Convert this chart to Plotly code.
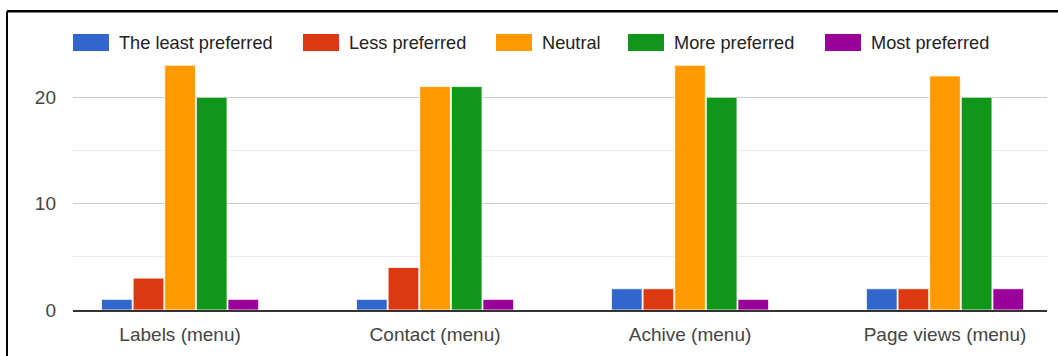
import plotly.graph_objects as go

# Survey results: preference counts per menu item
categories = ["Labels (menu)", "Contact (menu)", "Achive (menu)", "Page views (menu)"]
series_names = ["The least preferred", "Less preferred", "Neutral", "More preferred", "Most preferred"]
least_preferred = [1, 1, 2, 2]
less_preferred = [3, 4, 2, 2]
neutral = [23, 21, 23, 22]
more_preferred = [20, 21, 20, 20]
most_preferred = [1, 1, 1, 2]
y_tick_values = [0, 10, 20]

series_values = [least_preferred, less_preferred, neutral, more_preferred, most_preferred]
colors = ["#3366cc", "#dc3912", "#ff9900", "#109618", "#990099"]

W, H = 1058, 356
M_L, M_R, M_T, M_B = 73, 11, 44, 44
PW, PH = W - M_L - M_R, H - M_T - M_B


def px_x(x):
    return (x - M_L) / PW


def px_y(y):
    return (H - M_B - y) / PH


FONT = "Liberation Sans, Arial, sans-serif"

fig = go.Figure()
for name, vals, col in zip(series_names, series_values, colors):
    fig.add_trace(go.Bar(
        name=name, x=categories, y=vals,
        marker=dict(color=col, line=dict(color="rgba(255,255,255,0.8)", width=1)),
        showlegend=False,
    ))

shapes = []
annotations = []

# Custom legend: wide swatches with labels along the top gridline
swatch_left = [73, 303, 496, 628, 825]
for name, col, sx in zip(series_names, colors, swatch_left):
    shapes.append(dict(
        type="rect", xref="paper", yref="paper", layer="above",
        x0=px_x(sx), x1=px_x(sx + 36), y0=px_y(51), y1=px_y(34),
        fillcolor=col, line=dict(width=0),
    ))
    annotations.append(dict(
        xref="paper", yref="paper", x=px_x(sx + 45), y=px_y(42.5),
        xanchor="left", yanchor="middle", text=name, showarrow=False,
        font=dict(family=FONT, size=18.2, color="#222222"),
        bgcolor="white", borderpad=0,
    ))

# Frame lines (top and left edges)
shapes.append(dict(type="line", xref="paper", yref="paper", layer="above",
                   x0=px_x(7), x1=px_x(1060), y0=px_y(11), y1=px_y(11),
                   line=dict(color="black", width=2.5)))
shapes.append(dict(type="line", xref="paper", yref="paper", layer="above",
                   x0=px_x(7), x1=px_x(7), y0=px_y(11), y1=px_y(360),
                   line=dict(color="black", width=2)))

fig.update_layout(
    width=W, height=H,
    margin=dict(l=M_L, r=M_R, t=M_T, b=M_B, pad=0),
    paper_bgcolor="white", plot_bgcolor="white",
    barmode="group", bargap=0.38, bargroupgap=0.03,
    showlegend=False,
    shapes=shapes, annotations=annotations,
    font=dict(family=FONT, size=19, color="#444444"),
)
fig.update_xaxes(
    range=[-0.42, 3.40], showgrid=False,
    showline=True, linecolor="#333333", linewidth=1.5,
    ticks="", tickfont=dict(family=FONT, size=19, color="#444444"),
    ticklabelstandoff=6,
)
fig.update_yaxes(
    range=[0, 25], tickvals=y_tick_values + [25], ticktext=[str(v) for v in y_tick_values] + [""],
    showgrid=True, gridcolor="#cccccc", gridwidth=1,
    zeroline=False, showline=False, ticks="",
    minor=dict(tickvals=[5, 15], showgrid=True, gridcolor="#ebebeb", gridwidth=1),
    tickfont=dict(family=FONT, size=19, color="#444444"),
    ticklabelstandoff=16,
)

fig.write_html("out.html")
